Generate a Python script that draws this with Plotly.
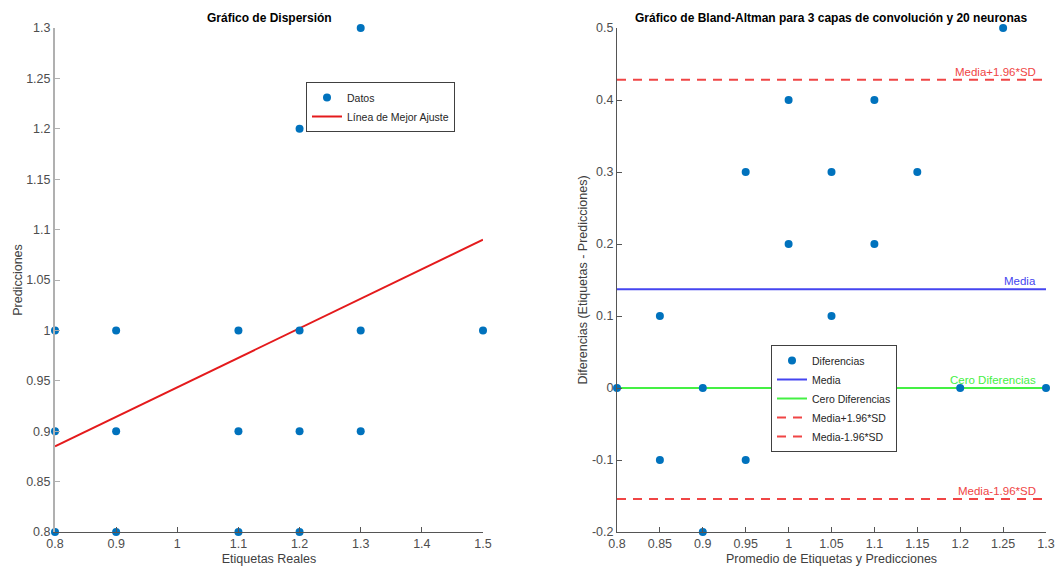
import plotly.graph_objects as go

# Etiquetas reales y predicciones del modelo
etiquetas = [0.8, 0.8, 0.8, 0.9, 0.9, 0.9, 1.1, 1.1, 1.1, 1.2, 1.2, 1.2, 1.2, 1.3, 1.3, 1.3, 1.5]
predicciones = [1.0, 0.9, 0.8, 1.0, 0.9, 0.8, 1.0, 0.9, 0.8, 1.2, 1.0, 0.9, 0.8, 1.3, 1.0, 0.9, 1.0]

# Recta de mejor ajuste (extremos)
ajuste_x = [0.8, 1.5]
ajuste_y = [0.885, 1.09]

# Estadísticos de Bland-Altman
media_dif = 0.137
lim_sup = 0.428
lim_inf = -0.154

promedios = [(a + b) / 2 for a, b in zip(etiquetas, predicciones)]
diferencias = [a - b for a, b in zip(etiquetas, predicciones)]
ba_x = [0.8, 1.3]

AZUL = "#0072BD"
FONT = "Liberation Sans, Arial, sans-serif"
TICKFONT = dict(family=FONT, size=12.5, color="#4d4d4d")
TITLEFONT = dict(family=FONT, size=12.5, color="#404040")

fig = go.Figure()

fig.add_trace(go.Scatter(x=ajuste_x, y=ajuste_y, mode="lines", name="Línea de Mejor Ajuste",
                         line=dict(color="#e41a1c", width=2), xaxis="x", yaxis="y", legend="legend",
                         legendrank=2))
fig.add_trace(go.Scatter(x=etiquetas, y=predicciones, mode="markers", name="Datos",
                         marker=dict(color=AZUL, size=8), xaxis="x", yaxis="y", legend="legend",
                         legendrank=1, cliponaxis=False))

fig.add_trace(go.Scatter(x=ba_x, y=[media_dif] * 2, mode="lines", name="Media",
                         line=dict(color="#4545f0", width=2), xaxis="x2", yaxis="y2", legend="legend2",
                         legendrank=2))
fig.add_trace(go.Scatter(x=ba_x, y=[0, 0], mode="lines", name="Cero Diferencias",
                         line=dict(color="#44f044", width=2), xaxis="x2", yaxis="y2", legend="legend2",
                         legendrank=3))
fig.add_trace(go.Scatter(x=ba_x, y=[lim_sup] * 2, mode="lines", name="Media+1.96*SD",
                         line=dict(color="#f04545", width=2, dash="9px,7px"), xaxis="x2", yaxis="y2",
                         legend="legend2", legendrank=4))
fig.add_trace(go.Scatter(x=ba_x, y=[lim_inf] * 2, mode="lines", name="Media-1.96*SD",
                         line=dict(color="#f04545", width=2, dash="9px,7px"), xaxis="x2", yaxis="y2",
                         legend="legend2", legendrank=5))
fig.add_trace(go.Scatter(x=promedios, y=diferencias, mode="markers", name="Diferencias",
                         marker=dict(color=AZUL, size=8), xaxis="x2", yaxis="y2", legend="legend2",
                         legendrank=1, cliponaxis=False))

axis_common = dict(showgrid=False, zeroline=False, ticks="inside", ticklen=5,
                   tickfont=TICKFONT, showline=True, mirror=False, automargin=False)

ticks_05 = [0.8, 0.85, 0.9, 0.95, 1, 1.05, 1.1, 1.15, 1.2, 1.25, 1.3]
ticks_05_txt = ["0.8", "0.85", "0.9", "0.95", "1", "1.05", "1.1", "1.15", "1.2", "1.25", "1.3"]

fig.update_layout(
    width=1057, height=568,
    margin=dict(l=0, r=0, t=0, b=0),
    paper_bgcolor="white", plot_bgcolor="white",
    font=dict(family=FONT, color="#262626"),
    xaxis=dict(domain=[55 / 1057, 483 / 1057], range=[0.8, 1.5],
               tickvals=[0.8, 0.9, 1, 1.1, 1.2, 1.3, 1.4, 1.5],
               ticktext=["0.8", "0.9", "1", "1.1", "1.2", "1.3", "1.4", "1.5"],
               linecolor="#555555", linewidth=1, tickcolor="#555555",
               title=dict(text="Etiquetas Reales", font=TITLEFONT, standoff=4),
               anchor="y", **axis_common),
    yaxis=dict(domain=[36 / 568, 540 / 568], range=[0.8, 1.3],
               tickvals=ticks_05, ticktext=ticks_05_txt,
               linecolor="#b0b0b0", linewidth=2, tickcolor="#b0b0b0",
               title=dict(text="Predicciones", font=TITLEFONT, standoff=1),
               anchor="x", **axis_common),
    xaxis2=dict(domain=[617 / 1057, 1046 / 1057], range=[0.8, 1.3],
                tickvals=ticks_05, ticktext=ticks_05_txt,
                linecolor="#555555", linewidth=1, tickcolor="#555555",
                title=dict(text="Promedio de Etiquetas y Predicciones", font=TITLEFONT, standoff=4),
                anchor="y2", **axis_common),
    yaxis2=dict(domain=[36 / 568, 540 / 568], range=[-0.2, 0.5],
                tickvals=[-0.2, -0.1, 0, 0.1, 0.2, 0.3, 0.4, 0.5],
                ticktext=["-0.2", "-0.1", "0", "0.1", "0.2", "0.3", "0.4", "0.5"],
                linecolor="#555555", linewidth=1, tickcolor="#555555",
                title=dict(text="Diferencias (Etiquetas - Predicciones)", font=TITLEFONT, standoff=1),
                anchor="x2", **axis_common),
    legend=dict(x=306 / 1057, y=1 - 82 / 568, xanchor="left", yanchor="top",
                bgcolor="white", bordercolor="#404040", borderwidth=1,
                font=dict(family=FONT, size=10.5, color="#262626"), tracegroupgap=0),
    legend2=dict(x=771 / 1057, y=1 - 345 / 568, xanchor="left", yanchor="top",
                 bgcolor="white", bordercolor="#404040", borderwidth=1,
                 font=dict(family=FONT, size=10.5, color="#262626"), tracegroupgap=0),
    showlegend=True,
)

# Títulos
fig.add_annotation(text="<b>Gráfico de Dispersión</b>", xref="paper", yref="paper",
                   x=269 / 1057, y=1 - 18 / 568, xanchor="center", yanchor="middle", showarrow=False,
                   font=dict(family=FONT, size=12, color="black"))
fig.add_annotation(text="<b>Gráfico de Bland-Altman para 3 capas de convolución y 20 neuronas</b>",
                   xref="paper", yref="paper", x=831 / 1057, y=1 - 18 / 568,
                   xanchor="center", yanchor="middle", showarrow=False,
                   font=dict(family=FONT, size=12, color="black"))

# Etiquetas de las líneas de referencia
for yv, txt, col in [(lim_sup, "Media+1.96*SD", "#f04545"), (media_dif, "Media", "#4545f0"),
                     (0, "Cero Diferencias", "#44f044"), (lim_inf, "Media-1.96*SD", "#f04545")]:
    fig.add_annotation(text=txt, xref="x2", yref="y2", x=1.291, y=yv, xanchor="right", yanchor="bottom",
                       showarrow=False, font=dict(family=FONT, size=11.5, color=col))

fig.write_html("out.html")
